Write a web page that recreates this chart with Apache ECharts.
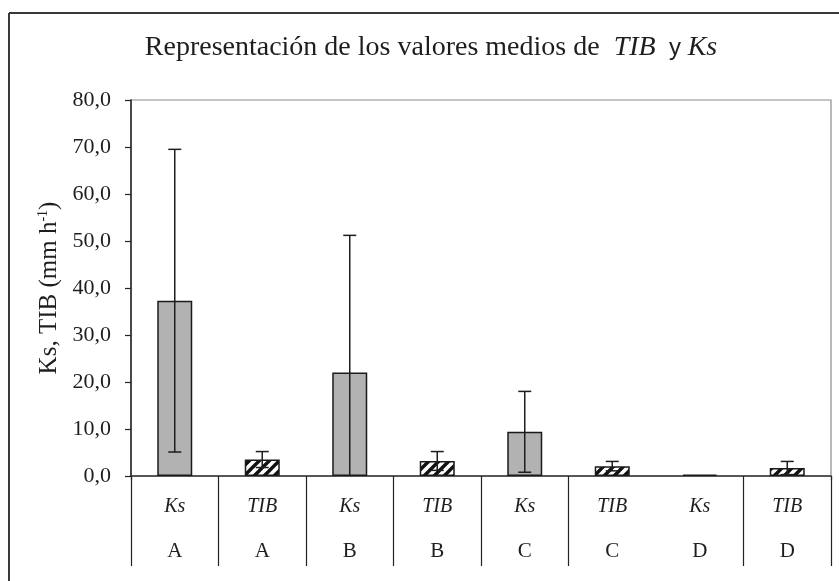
<!DOCTYPE html>
<html><head><meta charset="utf-8">
<script src="https://cdn.jsdelivr.net/npm/echarts@6/dist/echarts.min.js"></script>
<style>html,body{margin:0;padding:0;background:#fff}#c{width:839px;height:581px}</style>
</head><body><div id="c"></div>
<script>
// ---- data ----
const measures = ['Ks', 'TIB', 'Ks', 'TIB', 'Ks', 'TIB', 'Ks', 'TIB'];
const groups   = ['A', 'A', 'B', 'B', 'C', 'C', 'D', 'D'];
const means    = [37.3, 3.5, 22.0, 3.2, 9.4, 2.1, 0.3, 1.7];
const errors   = [32.2, 1.7, 29.2, 2.0, 8.6, 1.0, 0, 1.4];
const yMin = 0, yMax = 80, yStep = 10;

const SERIF = '"Liberation Serif", "DejaVu Serif", serif';
const INK = '#1e1e1e';

function hatchCanvas() {
  const s = 10;
  const c = document.createElement('canvas');
  c.width = s; c.height = s;
  const g = c.getContext('2d');
  g.fillStyle = '#fff'; g.fillRect(0, 0, s, s);
  g.strokeStyle = '#111'; g.lineWidth = 3.4;
  g.beginPath();
  g.moveTo(-2, s + 2); g.lineTo(s + 2, -2);
  g.moveTo(-2, 2); g.lineTo(2, -2);
  g.moveTo(s - 2, s + 2); g.lineTo(s + 2, s - 2);
  g.stroke();
  return c;
}
const hatch = hatchCanvas();

const cats = measures.map((m, i) => m + '|' + groups[i]);

const chart = echarts.init(document.getElementById('c'), null, {renderer: 'canvas'});
chart.setOption({
  animation: false,
  backgroundColor: '#fff',
  title: {
    text: '{n|Representación de los valores medios de  }{i|TIB}{y|  y }{i|Ks}',
    left: 426, top: 29, textAlign: 'center',
    textStyle: {
      fontWeight: 'normal',
      rich: {
        n: {fontFamily: SERIF, fontSize: 28, fontWeight: 'normal', color: INK},
        i: {fontFamily: SERIF, fontSize: 28, fontWeight: 'normal', fontStyle: 'italic', color: INK},
        y: {fontFamily: '"Liberation Sans", sans-serif', fontSize: 24, fontWeight: 'normal', color: INK}
      }
    }
  },
  graphic: [
    {type: 'line', shape: {x1: 9, y1: 13, x2: 9, y2: 581}, style: {stroke: '#3a3a3a', lineWidth: 2}},
    {type: 'line', shape: {x1: 9, y1: 13, x2: 839, y2: 13}, style: {stroke: '#3a3a3a', lineWidth: 2}}
  ],
  grid: {left: 131, top: 100, right: 8, bottom: 105, show: true, borderColor: '#8c8c8c', borderWidth: 1.2},
  xAxis: [{
    type: 'category', data: cats, position: 'bottom',
    axisLine: {lineStyle: {color: '#333', width: 1.5}},
    axisTick: {show: true, length: 90, interval: function (idx) { return idx !== 6; }, lineStyle: {color: '#222', width: 1.2}},
    axisLabel: {
      interval: 0, margin: 8,
      formatter: function (v) { const p = v.split('|'); return '{m|' + p[0] + '}\n{g|' + p[1] + '}'; },
      rich: {
        m: {fontFamily: SERIF, fontSize: 20, fontStyle: 'italic', color: INK, lineHeight: 45},
        g: {fontFamily: SERIF, fontSize: 21, color: INK, lineHeight: 45}
      }
    }
  }, {
    type: 'category', data: cats, position: 'bottom',
    axisLine: {show: false},
    axisTick: {show: true, length: 4, interval: function (idx) { return idx === 6; }, lineStyle: {color: '#222', width: 1.2}},
    axisLabel: {show: false}
  }],
  yAxis: {
    type: 'value', min: yMin, max: yMax, interval: yStep,
    axisLine: {show: true, lineStyle: {color: '#222', width: 1.5}},
    axisTick: {show: true, length: 6, lineStyle: {color: '#222', width: 1.2}},
    splitLine: {show: false},
    axisLabel: {
      margin: 20, fontFamily: SERIF, fontSize: 22, color: INK,
      formatter: function (v) { return v.toFixed(1).replace('.', ','); }
    },
    name: '{a|Ks, TIB (mm h}{s|-1}{a|)}',
    nameLocation: 'middle', nameGap: 66, nameRotate: 90,
    nameTextStyle: {
      rich: {
        a: {fontFamily: SERIF, fontSize: 25, color: INK},
        s: {fontFamily: SERIF, fontSize: 14, color: INK, verticalAlign: 'top'}
      }
    }
  },
  series: [{
    type: 'bar', xAxisIndex: 0, barWidth: '40%',
    itemStyle: {borderColor: '#1a1a1a', borderWidth: 1.5},
    data: means.map(function (v, i) {
      return {
        value: v,
        itemStyle: measures[i] === 'Ks' ? {color: '#b2b2b2'} : {color: {image: hatch, repeat: 'repeat'}}
      };
    }),
    z: 2
  }, {
    type: 'custom', xAxisIndex: 0, z: 5,
    encode: {x: 0, y: 1},
    data: means.map(function (v, i) { return [i, v, errors[i]]; }),
    renderItem: function (params, api) {
      const i = api.value(0), m = api.value(1), e = api.value(2);
      if (!e) return null;
      const top = api.coord([i, m + e]);
      let lo = m - e, capLo = true;
      if (lo < yMin) { lo = yMin; capLo = false; }
      const bot = api.coord([i, lo]);
      const x = top[0], w = 6.5;
      const st = {stroke: '#1e1e1e', lineWidth: 1.5};
      const ch = [
        {type: 'line', shape: {x1: x, y1: top[1], x2: x, y2: bot[1]}, style: st},
        {type: 'line', shape: {x1: x - w, y1: top[1], x2: x + w, y2: top[1]}, style: st}
      ];
      if (capLo) ch.push({type: 'line', shape: {x1: x - w, y1: bot[1], x2: x + w, y2: bot[1]}, style: st});
      return {type: 'group', children: ch};
    }
  }]
});
</script>
</body></html>
